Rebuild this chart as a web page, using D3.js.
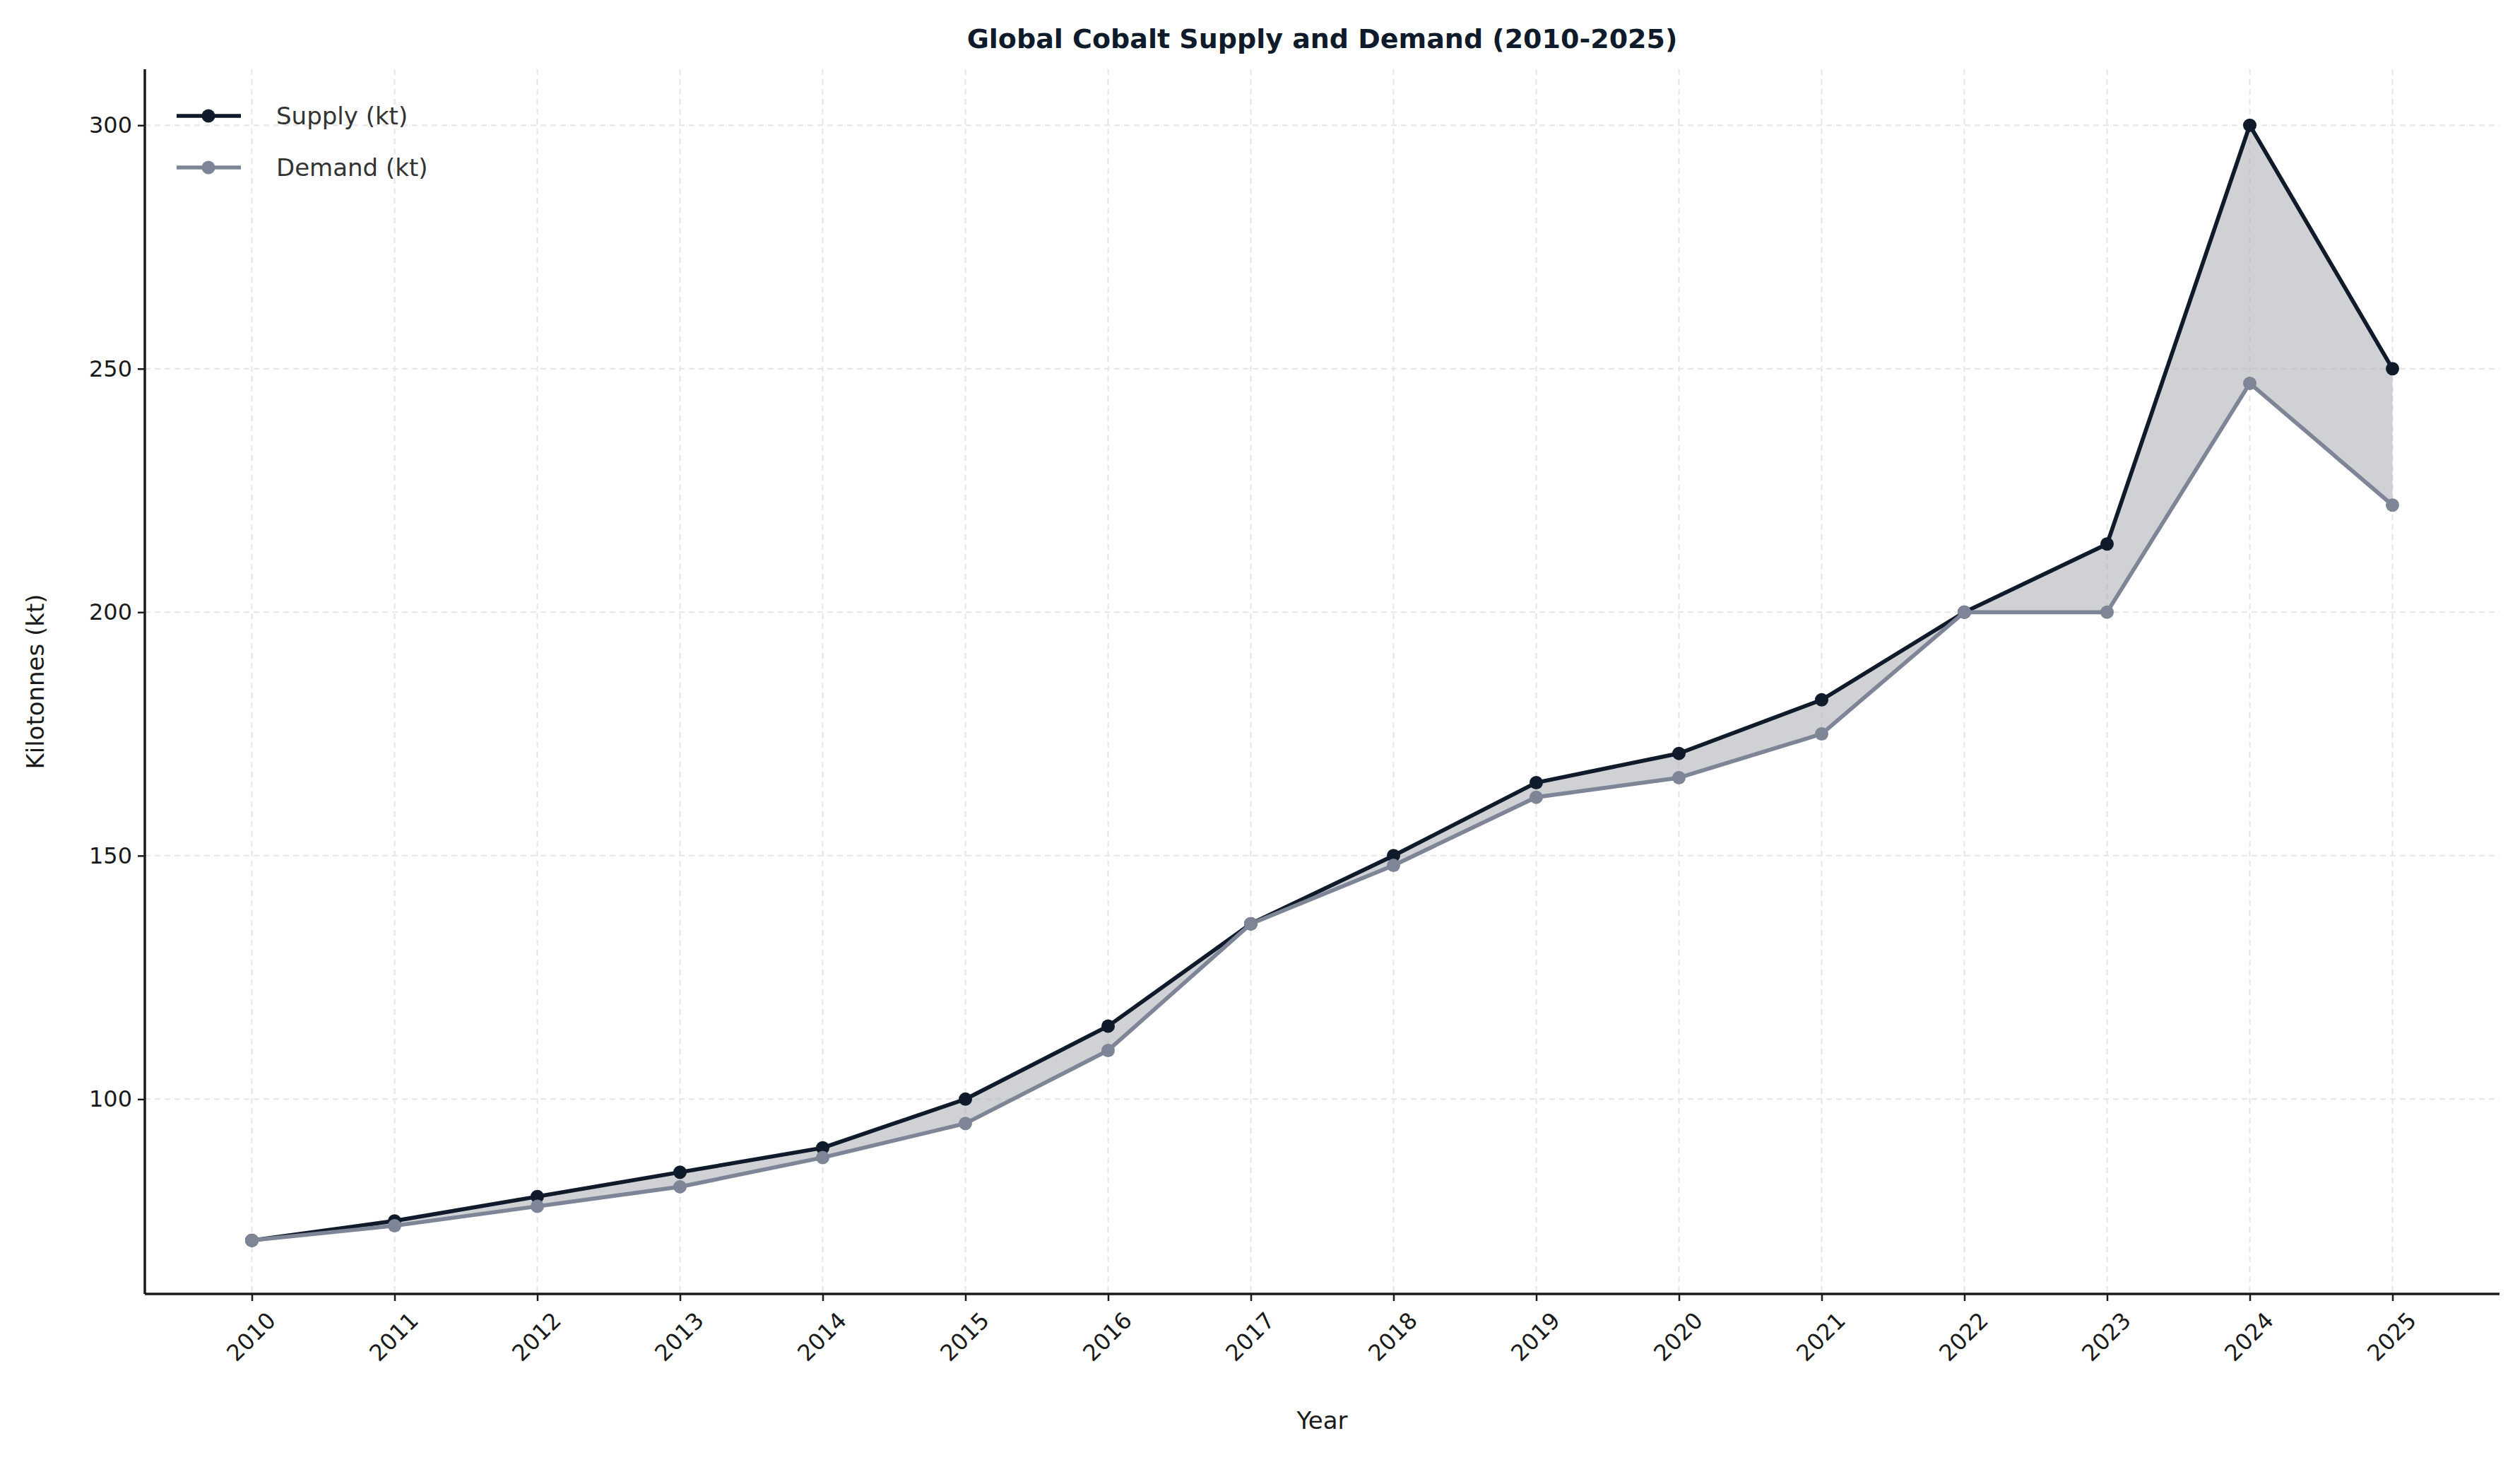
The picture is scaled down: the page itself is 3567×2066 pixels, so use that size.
<!DOCTYPE html>
<html><head><meta charset="utf-8">
<script src="https://cdn.jsdelivr.net/npm/d3@7"></script>
<style>body{margin:0;background:#fff}text{font-family:"DejaVu Sans",sans-serif}</style>
</head><body><div id="vis"></div>
<script>
const years = [2010,2011,2012,2013,2014,2015,2016,2017,2018,2019,2020,2021,2022,2023,2024,2025];
const supply = [71,75,80,85,90,100,115,136,150,165,171,182,200,214,300,250];
const demand = [71,74,78,82,88,95,110,136,148,162,166,175,200,200,247,222];
const yTicks = [100,150,200,250,300];

const W = 3567, H = 2066,
  plotL = 205, plotR = 3538, plotT = 98, plotB = 1831;
const cSupply = "#0f1b2b", cDemand = "#7d8596";

const svg = d3.select("#vis").append("svg").attr("width", W).attr("height", H);

const x = d3.scaleLinear().domain([2010 - 0.75, 2025 + 0.75]).range([plotL, plotR]);
const y = d3.scaleLinear().domain([60, 311.5]).range([plotB, plotT]);

// grid
svg.append("g").selectAll("line").data(years).join("line")
  .attr("x1", d => x(d)).attr("x2", d => x(d)).attr("y1", plotT).attr("y2", plotB)
  .attr("stroke", "#e6e6e6").attr("stroke-width", 2).attr("stroke-dasharray", "8,6");
svg.append("g").selectAll("line").data(yTicks).join("line")
  .attr("x1", plotL).attr("x2", plotR).attr("y1", d => y(d)).attr("y2", d => y(d))
  .attr("stroke", "#e6e6e6").attr("stroke-width", 2).attr("stroke-dasharray", "8,6");

// fill between
const area = d3.area().x((d, i) => x(years[i])).y0((d, i) => y(demand[i])).y1(d => y(d));
svg.append("path").attr("d", area(supply)).attr("fill", "#a9acb2").attr("fill-opacity", 0.55);

function series(vals, col) {
  const line = d3.line().x((d, i) => x(years[i])).y(d => y(d));
  svg.append("path").attr("d", line(vals)).attr("fill", "none")
    .attr("stroke", col).attr("stroke-width", 5.7).attr("stroke-linejoin", "round");
  svg.append("g").selectAll("circle").data(vals).join("circle")
    .attr("cx", (d, i) => x(years[i])).attr("cy", d => y(d)).attr("r", 9.5).attr("fill", col);
}
series(supply, cSupply);
series(demand, cDemand);

// axes
const xAxis = svg.append("g").attr("transform", `translate(0,${plotB})`)
  .call(d3.axisBottom(x).tickValues(years).tickFormat(d3.format("d")).tickSize(10).tickSizeOuter(0));
xAxis.selectAll("text").attr("font-size", 32).attr("fill", "#1a1a1a")
  .attr("text-anchor", "middle").attr("dy", 0).attr("y", 0)
  .attr("transform", "translate(0,62) rotate(-45)").attr("dominant-baseline", "middle");
const yAxis = svg.append("g").attr("transform", `translate(${plotL},0)`)
  .call(d3.axisLeft(y).tickValues(yTicks).tickSize(10).tickSizeOuter(0));
yAxis.selectAll("text").attr("font-size", 32).attr("fill", "#1a1a1a").attr("x", -18);
svg.selectAll(".domain").remove();
svg.selectAll(".tick line").attr("stroke", "#1a1a1a").attr("stroke-width", 2.5);
svg.append("line").attr("x1", plotL).attr("x2", plotL).attr("y1", plotT).attr("y2", plotB)
  .attr("stroke", "#1a1a1a").attr("stroke-width", 3.5);
svg.append("line").attr("x1", plotL).attr("x2", plotR).attr("y1", plotB).attr("y2", plotB)
  .attr("stroke", "#1a1a1a").attr("stroke-width", 3.5);

// labels
svg.append("text").attr("x", (plotL + plotR) / 2).attr("y", 68).attr("text-anchor", "middle")
  .attr("font-size", 38).attr("font-weight", "bold").attr("fill", cSupply)
  .text("Global Cobalt Supply and Demand (2010-2025)");
svg.append("text").attr("x", (plotL + plotR) / 2).attr("y", 2022).attr("text-anchor", "middle")
  .attr("font-size", 34).attr("fill", "#1a1a1a").text("Year");
svg.append("text").attr("transform", `translate(62,${(plotT + plotB) / 2}) rotate(-90)`)
  .attr("text-anchor", "middle").attr("font-size", 34).attr("fill", "#1a1a1a").text("Kilotonnes (kt)");

// legend
const legend = [["Supply (kt)", cSupply], ["Demand (kt)", cDemand]];
const lg = svg.append("g").selectAll("g").data(legend).join("g")
  .attr("transform", (d, i) => `translate(0,${164 + i * 73})`);
lg.append("line").attr("x1", 250).attr("x2", 341).attr("stroke", d => d[1]).attr("stroke-width", 5.7);
lg.append("circle").attr("cx", 295).attr("r", 9.5).attr("fill", d => d[1]);
lg.append("text").attr("x", 391).attr("dy", "0.35em").attr("font-size", 34).attr("fill", "#333")
  .text(d => d[0]);
</script></body></html>
